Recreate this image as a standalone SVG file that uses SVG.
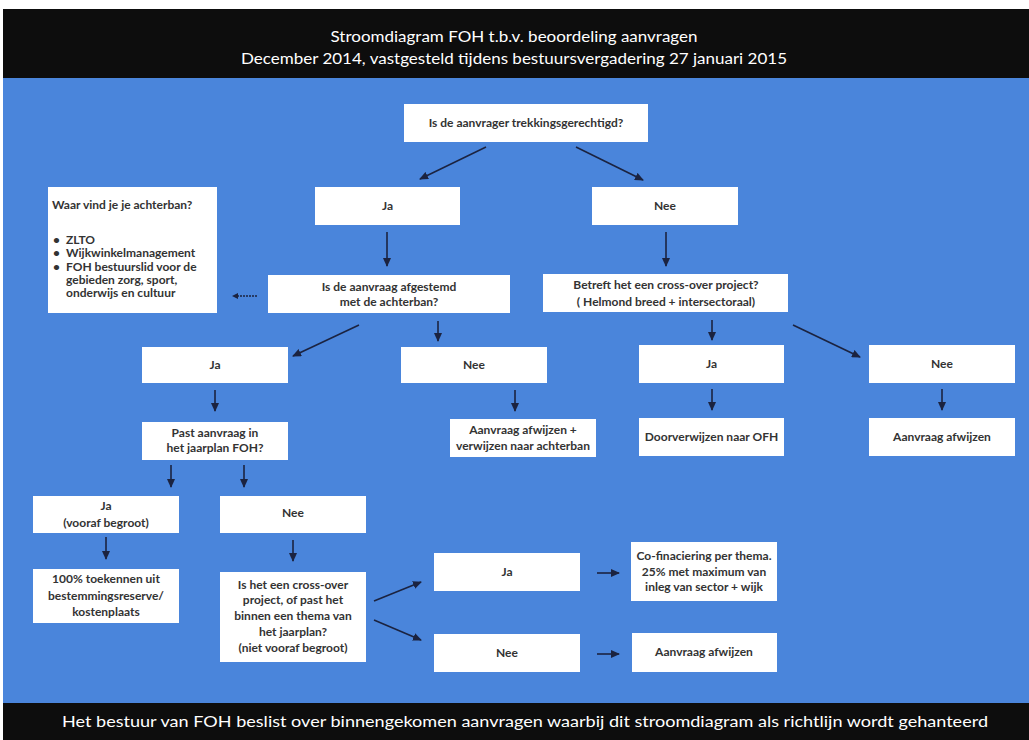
<svg xmlns="http://www.w3.org/2000/svg" width="1029" height="740" viewBox="0 0 1029 740">
<style>
.box{fill:#ffffff;}
.t{font-family:Lato,"Liberation Sans",sans-serif;font-weight:bold;font-size:12px;fill:#333333;text-anchor:middle;}
.tl{font-family:Lato,"Liberation Sans",sans-serif;font-weight:bold;font-size:12px;fill:#333333;}
.h{font-family:Lato,"Liberation Sans",sans-serif;font-size:15px;fill:#ffffff;text-anchor:middle;}
.c{stroke:#1b2340;stroke-width:1.6;fill:none;marker-end:url(#ah);}
.d{stroke:#1b2340;stroke-width:1.4;fill:none;stroke-dasharray:2 1;marker-end:url(#ahs);}
</style>
<defs>
<marker id="ah" markerUnits="userSpaceOnUse" markerWidth="9" markerHeight="8" refX="8" refY="4" orient="auto">
<path d="M0,0 L9,4 L0,8 z" fill="#1b2340"/>
</marker>
<marker id="ahs" markerUnits="userSpaceOnUse" markerWidth="6" markerHeight="6" refX="5" refY="3" orient="auto">
<path d="M0,0 L6,3 L0,6 z" fill="#1b2340"/>
</marker>
</defs>
<rect x="0" y="0" width="1029" height="740" fill="#ffffff"/>
<g id="header">
<rect x="3" y="9" width="1026" height="69" fill="#0d0d0d"/>
<text class="h" x="514" y="42" textLength="367" lengthAdjust="spacingAndGlyphs">Stroomdiagram FOH t.b.v. beoordeling aanvragen</text>
<text class="h" x="514" y="64" textLength="546" lengthAdjust="spacingAndGlyphs">December 2014, vastgesteld tijdens bestuursvergadering 27 januari 2015</text>
</g>
<rect x="3" y="78" width="1026" height="625" fill="#4a85db"/>
<g id="footer">
<rect x="3" y="703" width="1026" height="37" fill="#0d0d0d"/>
<text class="h" x="525" y="727" textLength="926" lengthAdjust="spacingAndGlyphs">Het bestuur van FOH beslist over binnengekomen aanvragen waarbij dit stroomdiagram als richtlijn wordt gehanteerd</text>
</g>
<g id="connectors">
<line class="c" x1="486" y1="147" x2="420" y2="179"/>
<line class="c" x1="576" y1="147" x2="643" y2="180"/>
<line class="c" x1="387" y1="232" x2="387" y2="266"/>
<line class="c" x1="666" y1="232" x2="666" y2="266"/>
<line class="d" x1="257" y1="296" x2="233" y2="296"/>
<line class="c" x1="359" y1="325" x2="293" y2="356"/>
<line class="c" x1="438" y1="321" x2="438" y2="341"/>
<line class="c" x1="712" y1="320" x2="712" y2="340"/>
<line class="c" x1="793" y1="325" x2="860" y2="357"/>
<line class="c" x1="215" y1="390" x2="215" y2="411"/>
<line class="c" x1="515" y1="390" x2="515" y2="411"/>
<line class="c" x1="712" y1="389" x2="712" y2="410"/>
<line class="c" x1="942" y1="389" x2="942" y2="410"/>
<line class="c" x1="171" y1="465" x2="171" y2="487"/>
<line class="c" x1="244" y1="465" x2="244" y2="487"/>
<line class="c" x1="106" y1="537" x2="106" y2="559"/>
<line class="c" x1="293" y1="540" x2="293" y2="561"/>
<line class="c" x1="374" y1="601" x2="421" y2="582"/>
<line class="c" x1="374" y1="620" x2="421" y2="640"/>
<line class="c" x1="597" y1="573" x2="619" y2="573"/>
<line class="c" x1="597" y1="654" x2="619" y2="654"/>
</g>
<g id="n-trekking">
<rect class="box" x="404" y="104" width="244" height="38"/>
<text class="t" x="526" y="127">Is de aanvrager trekkingsgerechtigd?</text>
</g>
<g id="n-ja1">
<rect class="box" x="315" y="187" width="145" height="38"/>
<text class="t" x="387.5" y="210">Ja</text>
</g>
<g id="n-nee1">
<rect class="box" x="592" y="187" width="146" height="38"/>
<text class="t" x="665" y="210">Nee</text>
</g>
<g id="n-achterban">
<rect class="box" x="48" y="187" width="169" height="126"/>
<text class="tl" x="52" y="209">Waar vind je je achterban?</text>
<text class="tl" x="53" y="244">•</text><text class="tl" x="66" y="244">ZLTO</text>
<text class="tl" x="53" y="257">•</text><text class="tl" x="66" y="257">Wijkwinkelmanagement</text>
<text class="tl" x="53" y="271">•</text><text class="tl" x="66" y="271">FOH bestuurslid voor de</text>
<text class="tl" x="66" y="284">gebieden zorg, sport,</text>
<text class="tl" x="66" y="297">onderwijs en cultuur</text>
</g>
<g id="n-afgestemd">
<rect class="box" x="268" y="275" width="242" height="38"/>
<text class="t" x="389" y="291">Is de aanvraag afgestemd</text>
<text class="t" x="389" y="306">met de achterban?</text>
</g>
<g id="n-crossover">
<rect class="box" x="543" y="274" width="245" height="38"/>
<text class="t" x="666" y="289">Betreft het een cross-over project?</text>
<text class="t" x="666" y="306">( Helmond breed + intersectoraal)</text>
</g>
<g id="n-ja2">
<rect class="box" x="142" y="347" width="146" height="36"/>
<text class="t" x="215" y="369">Ja</text>
</g>
<g id="n-nee2">
<rect class="box" x="401" y="347" width="146" height="36"/>
<text class="t" x="474" y="369">Nee</text>
</g>
<g id="n-ja3">
<rect class="box" x="639" y="345" width="145" height="38"/>
<text class="t" x="711.5" y="368">Ja</text>
</g>
<g id="n-nee3">
<rect class="box" x="869" y="345" width="146" height="38"/>
<text class="t" x="942" y="368">Nee</text>
</g>
<g id="n-jaarplan">
<rect class="box" x="142" y="422" width="146" height="38"/>
<text class="t" x="215" y="437">Past aanvraag in</text>
<text class="t" x="215" y="452">het jaarplan FOH?</text>
</g>
<g id="n-afwijzen-verwijzen">
<rect class="box" x="450" y="419" width="146" height="38"/>
<text class="t" x="523" y="434">Aanvraag afwijzen +</text>
<text class="t" x="523" y="450">verwijzen naar achterban</text>
</g>
<g id="n-ofh">
<rect class="box" x="639" y="418" width="145" height="38"/>
<text class="t" x="711.5" y="441">Doorverwijzen naar OFH</text>
</g>
<g id="n-afwijzen1">
<rect class="box" x="869" y="418" width="146" height="38"/>
<text class="t" x="942" y="441">Aanvraag afwijzen</text>
</g>
<g id="n-ja4">
<rect class="box" x="33" y="496" width="146" height="37"/>
<text class="t" x="106" y="510">Ja</text>
<text class="t" x="106" y="527">(vooraf begroot)</text>
</g>
<g id="n-nee4">
<rect class="box" x="220" y="496" width="146" height="37"/>
<text class="t" x="293" y="517">Nee</text>
</g>
<g id="n-toekennen">
<rect class="box" x="33" y="569" width="146" height="54"/>
<text class="t" x="106" y="583">100% toekennen uit</text>
<text class="t" x="106" y="600">bestemmingsreserve/</text>
<text class="t" x="106" y="616">kostenplaats</text>
</g>
<g id="n-thema">
<rect class="box" x="220" y="572" width="146" height="90"/>
<text class="t" x="293" y="589">Is het een cross-over</text>
<text class="t" x="293" y="604">project, of past het</text>
<text class="t" x="293" y="620">binnen een thema van</text>
<text class="t" x="293" y="636">het jaarplan?</text>
<text class="t" x="293" y="652">(niet vooraf begroot)</text>
</g>
<g id="n-ja5">
<rect class="box" x="434" y="553" width="146" height="38"/>
<text class="t" x="507" y="576">Ja</text>
</g>
<g id="n-nee5">
<rect class="box" x="434" y="634" width="146" height="38"/>
<text class="t" x="507" y="657">Nee</text>
</g>
<g id="n-cofinanciering">
<rect class="box" x="631" y="542" width="146" height="59"/>
<text class="t" x="704" y="560">Co-finaciering per thema.</text>
<text class="t" x="704" y="576">25% met maximum van</text>
<text class="t" x="704" y="591">inleg van sector + wijk</text>
</g>
<g id="n-afwijzen2">
<rect class="box" x="632" y="633" width="145" height="39"/>
<text class="t" x="704" y="656">Aanvraag afwijzen</text>
</g>
</svg>
